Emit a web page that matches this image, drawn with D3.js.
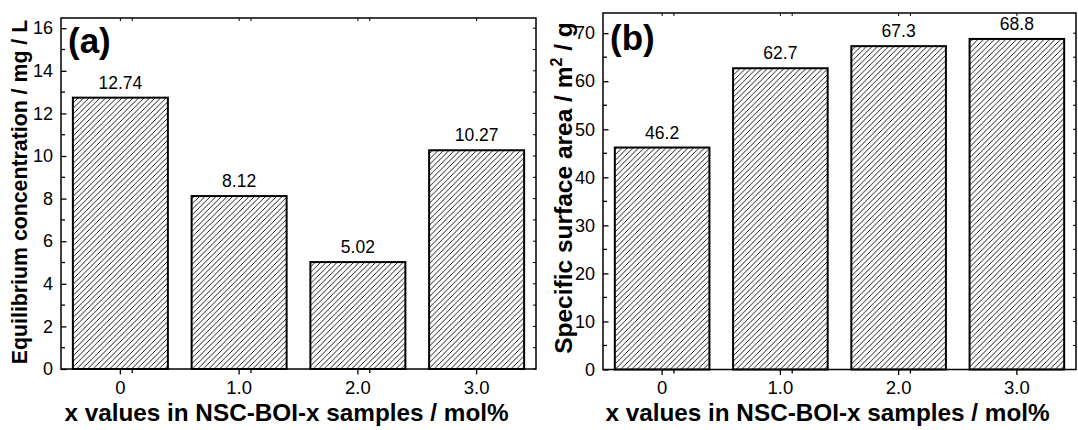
<!DOCTYPE html>
<html><head><meta charset="utf-8">
<script src="https://cdn.jsdelivr.net/npm/d3@7"></script>
<style>body{margin:0;background:#fff}svg{display:block}text{font-family:Arial,"Liberation Sans",sans-serif;fill:#000}</style>
</head><body>
<svg id="c" width="1078" height="430"></svg>
<script>
const categories = ["0","1.0","2.0","3.0"];
const valuesA = [12.74, 8.12, 5.02, 10.27];
const labelsA = ["12.74","8.12","5.02","10.27"];
const valuesB = [46.2, 62.7, 67.3, 68.8];
const labelsB = ["46.2","62.7","67.3","68.8"];
const yTicksA = [0,2,4,6,8,10,12,14,16];
const yTicksB = [0,10,20,30,40,50,60,70];

const svg = d3.select("#c");
const defs = svg.append("defs");
const P = 5.5;
const pat = defs.append("pattern").attr("id","hatch").attr("patternUnits","userSpaceOnUse")
  .attr("width",P).attr("height",P);
pat.append("rect").attr("width",P).attr("height",P).attr("fill","#fff");
pat.append("path").attr("d",`M-1,1 l2,-2 M0,${P} l${P},-${P} M${P-1},${P+1} l2,-2`).attr("stroke","#000").attr("stroke-width",0.9);

function panel(o){
  const g = svg.append("g");
  const x = d3.scaleBand().domain(categories).range([o.x0,o.x1]).paddingInner(0.2).paddingOuter(0.1);
  const y = d3.scaleLinear().domain(o.yDomain).range([o.y1,o.y0]);
  const step = x.step();
  g.selectAll("rect.bar").data(o.values).enter().append("rect")
    .attr("x",(d,i)=>x(categories[i])).attr("width",x.bandwidth())
    .attr("y",d=>y(d)).attr("height",d=>y(0)-y(d))
    .attr("fill","url(#hatch)").attr("stroke","#000").attr("stroke-width",2);
  g.selectAll("text.val").data(o.values).enter().append("text")
    .attr("x",(d,i)=>x(categories[i])+x.bandwidth()/2).attr("y",d=>y(d)-9)
    .attr("text-anchor","middle").attr("font-size",17.5).text((d,i)=>o.labels[i]);
  g.append("rect").attr("x",o.x0).attr("y",o.y0).attr("width",o.x1-o.x0).attr("height",o.y1-o.y0)
    .attr("fill","none").attr("stroke","#000").attr("stroke-width",1.5);
  const ya = d3.axisLeft(y).tickValues(o.yTicks).tickSize(-5.5).tickPadding(8).tickFormat(d3.format("d"));
  const yg = g.append("g").attr("transform",`translate(${o.x0},0)`).call(ya);
  yg.select(".domain").remove();
  yg.selectAll("text").attr("font-size",18).style("font-family","Arial,'Liberation Sans',sans-serif");
  yg.selectAll("line").attr("stroke-width",1.3);
  const minor = [];
  for(let i=0;i<o.yTicks.length-1;i++){ minor.push((o.yTicks[i]+o.yTicks[i+1])/2); }
  g.selectAll("line.ym").data(minor).enter().append("line")
    .attr("x1",o.x0).attr("x2",o.x0+4).attr("y1",d=>y(d)).attr("y2",d=>y(d)).attr("stroke","#000").attr("stroke-width",1.3);
  g.selectAll("line.yr").data(o.yTicks.concat(minor)).enter().append("line")
    .attr("x1",o.x1).attr("x2",o.x1-3).attr("y1",d=>y(d)).attr("y2",d=>y(d)).attr("stroke","#000").attr("stroke-width",1);
  const xa = d3.axisBottom(x).tickSize(5.5).tickPadding(6);
  const xg = g.append("g").attr("transform",`translate(0,${o.y1})`).call(xa);
  xg.select(".domain").remove();
  xg.selectAll("text").attr("font-size",18.5).style("font-family","Arial,'Liberation Sans',sans-serif");
  xg.selectAll("line").attr("stroke-width",1.3);
  const xm = categories.slice(1).map(c=>x(c)-step/2);
  g.selectAll("line.xm").data(xm).enter().append("line")
    .attr("x1",d=>d).attr("x2",d=>d).attr("y1",o.y1).attr("y2",o.y1+4).attr("stroke","#000").attr("stroke-width",1.3);
  g.selectAll("line.xt").data(categories.map(c=>x(c)+x.bandwidth()/2).concat(xm)).enter().append("line")
    .attr("x1",d=>d).attr("x2",d=>d).attr("y1",o.y0).attr("y2",o.y0+3).attr("stroke","#000").attr("stroke-width",1);
  g.append("text").attr("x",o.x0+7).attr("y",o.letterY).attr("font-size",35).attr("font-weight","bold").text(o.letter);
  g.append("text").attr("x",(o.x0+o.x1)/2 - 12).attr("y",420.5).attr("text-anchor","middle")
    .attr("font-size",24.3).attr("font-weight","bold").text("x values in NSC-BOI-x samples / mol%");
  const yt = g.append("text").attr("transform",`translate(${o.ytx},${o.yty}) rotate(-90)`)
    .attr("text-anchor","middle").attr("font-size",o.ytSize).attr("font-weight","bold");
  o.ytitle(yt);
}

panel({x0:61,x1:536,y0:18,y1:369,yDomain:[0,16.48],values:valuesA,labels:labelsA,yTicks:yTicksA,letter:"(a)",letterY:53,
  ytx:27,yty:192,ytSize:21.3,ytitle:t=>t.text("Equilibrium concentration / mg / L")});
panel({x0:603,x1:1076,y0:13,y1:369.5,yDomain:[0,74.2],values:valuesB,labels:labelsB,yTicks:yTicksB,letter:"(b)",letterY:50,
  ytx:572,yty:188,ytSize:24.5,ytitle:t=>{t.append("tspan").text("Specific surface area / m");
    t.append("tspan").attr("font-size",16).attr("dy",-10).text("2");
    t.append("tspan").attr("dy",10).text(" / g");}});
</script>
</body></html>
